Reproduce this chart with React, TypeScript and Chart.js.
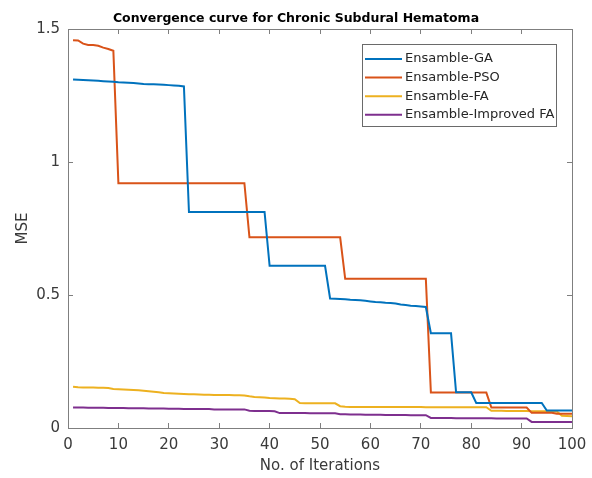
import { useEffect, useRef } from "react";
import { Chart, registerables } from "chart.js";

Chart.register(...registerables);

const ITERATIONS = [
  1, 2, 3, 4, 5, 6, 7, 8, 9, 10, 11, 12, 13, 14, 15, 16, 17, 18, 19, 20,
  21, 22, 23, 24, 25, 26, 27, 28, 29, 30, 31, 32, 33, 34, 35, 36, 37, 38, 39, 40,
  41, 42, 43, 44, 45, 46, 47, 48, 49, 50, 51, 52, 53, 54, 55, 56, 57, 58, 59, 60,
  61, 62, 63, 64, 65, 66, 67, 68, 69, 70, 71, 72, 73, 74, 75, 76, 77, 78, 79, 80,
  81, 82, 83, 84, 85, 86, 87, 88, 89, 90, 91, 92, 93, 94, 95, 96, 97, 98, 99, 100,
];

const ENSAMBLE_GA = [
  1.31, 1.309, 1.308, 1.307, 1.306, 1.305, 1.304, 1.303, 1.302, 1.3,
  1.299, 1.298, 1.297, 1.295, 1.293, 1.292, 1.292, 1.291, 1.29, 1.289,
  1.288, 1.287, 1.284, 0.812, 0.812, 0.812, 0.812, 0.812, 0.812, 0.812,
  0.812, 0.812, 0.812, 0.812, 0.812, 0.812, 0.812, 0.812, 0.812, 0.61,
  0.61, 0.61, 0.61, 0.61, 0.61, 0.61, 0.61, 0.61, 0.61, 0.61,
  0.61, 0.487, 0.486, 0.485, 0.484, 0.482, 0.481, 0.48, 0.478, 0.476,
  0.474, 0.473, 0.471, 0.47, 0.468, 0.464, 0.462, 0.46, 0.459, 0.457,
  0.455, 0.356, 0.356, 0.356, 0.356, 0.356, 0.134, 0.134, 0.134, 0.134,
  0.094, 0.094, 0.094, 0.094, 0.094, 0.094, 0.094, 0.094, 0.094, 0.094,
  0.094, 0.094, 0.094, 0.094, 0.066, 0.066, 0.066, 0.066, 0.066, 0.066,
];

const ENSAMBLE_PSO = [
  1.458, 1.457, 1.445, 1.44, 1.44, 1.437, 1.43, 1.425, 1.418, 0.92,
  0.92, 0.92, 0.92, 0.92, 0.92, 0.92, 0.92, 0.92, 0.92, 0.92,
  0.92, 0.92, 0.92, 0.92, 0.92, 0.92, 0.92, 0.92, 0.92, 0.92,
  0.92, 0.92, 0.92, 0.92, 0.92, 0.717, 0.717, 0.717, 0.717, 0.717,
  0.717, 0.717, 0.717, 0.717, 0.717, 0.717, 0.717, 0.717, 0.717, 0.717,
  0.717, 0.717, 0.717, 0.717, 0.561, 0.561, 0.561, 0.561, 0.561, 0.561,
  0.561, 0.561, 0.561, 0.561, 0.561, 0.561, 0.561, 0.561, 0.561, 0.561,
  0.561, 0.133, 0.133, 0.133, 0.133, 0.133, 0.133, 0.133, 0.133, 0.133,
  0.133, 0.133, 0.133, 0.077, 0.077, 0.077, 0.077, 0.077, 0.077, 0.077,
  0.077, 0.057, 0.057, 0.057, 0.057, 0.057, 0.054, 0.054, 0.054, 0.054,
];

const ENSAMBLE_FA = [
  0.155, 0.153, 0.152, 0.152, 0.152, 0.151, 0.151, 0.15, 0.147, 0.146,
  0.145, 0.144, 0.143, 0.142, 0.14, 0.138, 0.136, 0.134, 0.132, 0.131,
  0.13, 0.129, 0.128, 0.127, 0.127, 0.126, 0.125, 0.125, 0.124, 0.124,
  0.124, 0.124, 0.123, 0.123, 0.122, 0.119, 0.117, 0.116, 0.115, 0.113,
  0.112, 0.111, 0.111, 0.11, 0.108, 0.094, 0.093, 0.093, 0.093, 0.093,
  0.093, 0.093, 0.093, 0.082, 0.08, 0.079, 0.079, 0.079, 0.079, 0.079,
  0.079, 0.079, 0.079, 0.079, 0.079, 0.079, 0.079, 0.079, 0.079, 0.079,
  0.078, 0.078, 0.078, 0.078, 0.078, 0.078, 0.078, 0.078, 0.078, 0.078,
  0.078, 0.078, 0.078, 0.065, 0.065, 0.065, 0.064, 0.064, 0.064, 0.064,
  0.064, 0.063, 0.063, 0.063, 0.063, 0.062, 0.062, 0.046, 0.045, 0.044,
];

const ENSAMBLE_IMPROVED_FA = [
  0.077, 0.077, 0.077, 0.076, 0.076, 0.076, 0.076, 0.075, 0.075, 0.075,
  0.075, 0.074, 0.074, 0.074, 0.074, 0.073, 0.073, 0.073, 0.073, 0.072,
  0.072, 0.072, 0.071, 0.071, 0.071, 0.071, 0.071, 0.071, 0.07, 0.07,
  0.07, 0.07, 0.07, 0.07, 0.07, 0.065, 0.064, 0.064, 0.064, 0.064,
  0.063, 0.056, 0.056, 0.056, 0.056, 0.056, 0.056, 0.055, 0.055, 0.055,
  0.055, 0.055, 0.055, 0.052, 0.052, 0.051, 0.051, 0.051, 0.05, 0.05,
  0.05, 0.05, 0.049, 0.049, 0.049, 0.049, 0.049, 0.048, 0.048, 0.048,
  0.048, 0.038, 0.038, 0.038, 0.038, 0.038, 0.037, 0.037, 0.037, 0.037,
  0.037, 0.037, 0.037, 0.037, 0.036, 0.036, 0.036, 0.036, 0.036, 0.036,
  0.036, 0.023, 0.023, 0.023, 0.023, 0.023, 0.023, 0.023, 0.023, 0.023,
];

const SERIES_LABELS = ["Ensamble-GA", "Ensamble-PSO", "Ensamble-FA", "Ensamble-Improved FA"];
const SERIES_VALUES = [ENSAMBLE_GA, ENSAMBLE_PSO, ENSAMBLE_FA, ENSAMBLE_IMPROVED_FA];
const SERIES_COLORS = ["#0072BD", "#D95319", "#EDB120", "#7E2F8E"];

const TITLE = "Convergence curve for Chronic Subdural Hematoma";
const X_LABEL = "No. of Iterations";
const Y_LABEL = "MSE";
const X_MIN = 0;
const X_MAX = 100;
const X_STEP = 10;
const Y_MIN = 0;
const Y_MAX = 1.5;
const Y_STEP = 0.5;
const Y_TICK_VALUES = [0, 0.5, 1, 1.5];
const Y_TICK_LABELS = ["0", "0.5", "1", "1.5"];

const FONT = "'DejaVu Sans', 'Liberation Sans', Arial, sans-serif";
const AXIS_COLOR = "#7f7f7f";
const TEXT_COLOR = "#3a3a3a";

const insideLegend = {
  id: "insideLegend",
  afterDatasetsDraw(chart: any) {
    const { ctx, chartArea } = chart;
    const boxW = 194;
    const boxH = 82;
    const x0 = chartArea.right - 16 - boxW;
    const y0 = chartArea.top + 15;
    const rowH = 18.6;
    ctx.save();
    ctx.fillStyle = "#ffffff";
    ctx.fillRect(x0, y0, boxW, boxH);
    ctx.strokeStyle = "#6a6a6a";
    ctx.lineWidth = 1;
    ctx.strokeRect(x0 + 0.5, y0 + 0.5, boxW, boxH);
    ctx.font = `13px ${FONT}`;
    ctx.textBaseline = "middle";
    ctx.textAlign = "left";
    chart.data.datasets.forEach((ds: any, i: number) => {
      const y = y0 + 15 + i * rowH;
      ctx.strokeStyle = ds.borderColor;
      ctx.lineWidth = 2;
      ctx.beginPath();
      ctx.moveTo(x0 + 3, y);
      ctx.lineTo(x0 + 40, y);
      ctx.stroke();
      ctx.fillStyle = "#262626";
      ctx.fillText(ds.label, x0 + 43, y);
    });
    ctx.restore();
  },
};

const yTickLabel = (v: any) => {
  const idx = Y_TICK_VALUES.findIndex((t) => Math.abs(t - Number(v)) < 1e-9);
  return idx >= 0 ? Y_TICK_LABELS[idx] : String(v);
};

export default function App() {
  const canvasRef = useRef<HTMLCanvasElement | null>(null);

  useEffect(() => {
    document.body.style.margin = "0";
    const canvas = canvasRef.current;
    if (!canvas) return;

    const datasets = SERIES_VALUES.map((vals, i) => ({
      label: SERIES_LABELS[i],
      data: ITERATIONS.map((it, j) => ({ x: it, y: vals[j] })),
      borderColor: SERIES_COLORS[i],
      backgroundColor: SERIES_COLORS[i],
      borderWidth: 2,
      pointRadius: 0,
      tension: 0,
      fill: false,
    }));

    const tickGrid = {
      drawOnChartArea: false,
      drawTicks: true,
      tickLength: -5,
      color: AXIS_COLOR,
      lineWidth: 1,
    };
    const border = { display: true, color: AXIS_COLOR, width: 1 };

    const chart = new Chart(canvas, {
      type: "line",
      data: { datasets },
      options: {
        responsive: false,
        animation: false,
        devicePixelRatio: 1,
        events: [],
        layout: { padding: 0 },
        plugins: {
          legend: { display: false },
          tooltip: { enabled: false },
          title: {
            display: true,
            text: TITLE,
            color: "#000000",
            font: { family: FONT, size: 12.5, weight: "bold", lineHeight: 1.2 },
            padding: { top: 11, bottom: 3 },
          },
        },
        scales: {
          x: {
            type: "linear",
            position: "bottom",
            min: X_MIN,
            max: X_MAX,
            grid: tickGrid,
            border,
            ticks: {
              stepSize: X_STEP,
              color: TEXT_COLOR,
              font: { family: FONT, size: 15, lineHeight: 2.3 },
              padding: 5,
              maxRotation: 0,
              autoSkip: false,
            },
            title: {
              display: true,
              text: X_LABEL,
              color: TEXT_COLOR,
              font: { family: FONT, size: 15, lineHeight: 1.2 },
              padding: { top: 0, bottom: 3 },
            },
            afterFit: (s: any) => {
              s.height = 50;
            },
          },
          xTop: {
            type: "linear",
            position: "top",
            min: X_MIN,
            max: X_MAX,
            grid: tickGrid,
            border,
            ticks: { stepSize: X_STEP, display: false },
            afterFit: (s: any) => {
              s.height = 0;
            },
          },
          y: {
            type: "linear",
            position: "left",
            min: Y_MIN,
            max: Y_MAX,
            grid: tickGrid,
            border,
            ticks: {
              stepSize: Y_STEP,
              color: TEXT_COLOR,
              font: { family: FONT, size: 15 },
              padding: 13,
              callback: yTickLabel,
            },
            title: {
              display: true,
              text: Y_LABEL,
              color: TEXT_COLOR,
              font: { family: FONT, size: 15, lineHeight: 1.2 },
              padding: { top: 14, bottom: 0 },
            },
            afterFit: (s: any) => {
              s.width = 68;
            },
          },
          yRight: {
            type: "linear",
            position: "right",
            min: Y_MIN,
            max: Y_MAX,
            grid: tickGrid,
            border,
            ticks: { stepSize: Y_STEP, display: false },
            afterFit: (s: any) => {
              s.width = 20;
            },
          },
        },
      },
      plugins: [insideLegend],
    } as any);

    return () => chart.destroy();
  }, []);

  return (
    <div style={{ width: 592, height: 478, background: "#ffffff" }}>
      <canvas ref={canvasRef} width={592} height={478} style={{ display: "block" }} />
    </div>
  );
}
